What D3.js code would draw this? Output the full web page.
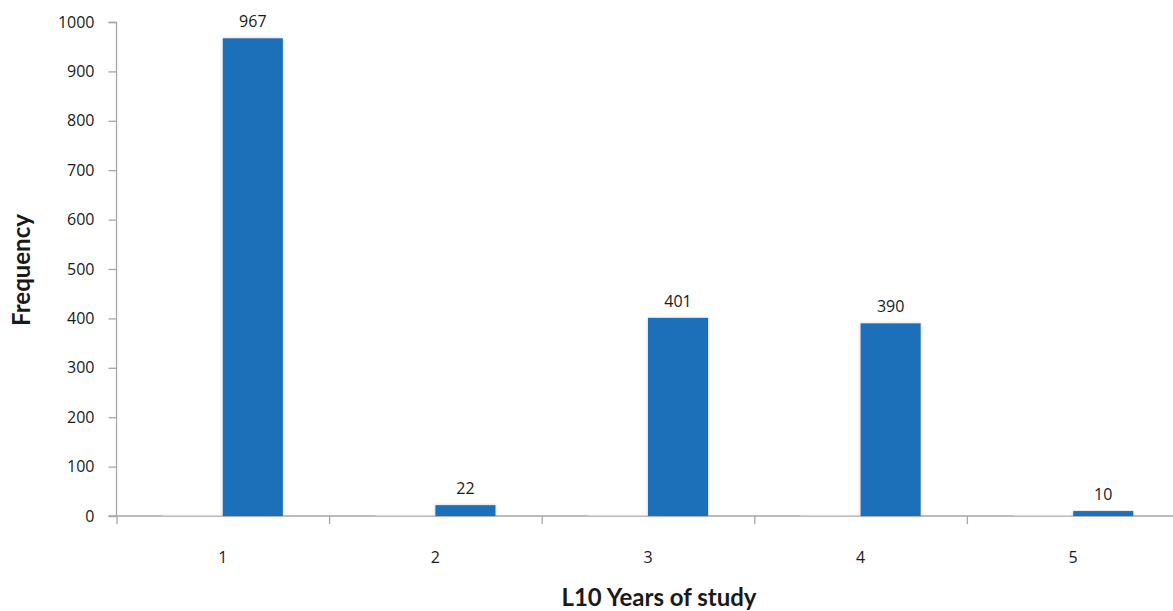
<!DOCTYPE html>
<html>
<head>
<meta charset="utf-8">
<script src="https://cdn.jsdelivr.net/npm/d3@7"></script>
<style>
  html, body { margin: 0; padding: 0; background: #fff; }
  svg { display: block; }
  text { fill: #1a1a1a; }
</style>
</head>
<body>
<svg id="chart" width="1173" height="611"></svg>
<script>
// Frequency of L10 years of study (clustered: empty first series, counts second)
const categories = ["1", "2", "3", "4", "5"];
const seriesNames = ["blank", "Frequency"];
const blankValues = [0, 0, 0, 0, 0];
const freqValues = [967, 22, 401, 390, 10];
const yTicks = [0, 100, 200, 300, 400, 500, 600, 700, 800, 900, 1000];

const svg = d3.select("#chart");
const plotLeft = 116.5, plotRight = 1179.5, plotTop = 22, plotBottom = 516;

const x = d3.scaleBand().domain(categories).range([plotLeft, plotRight]).paddingInner(0).paddingOuter(0);
const xs = d3.scaleBand().domain(seriesNames).range([0, x.bandwidth()]).paddingInner(0).paddingOuter(0.77);
const y = d3.scaleLinear().domain([0, 1000]).range([plotBottom, plotTop]);

const defs = svg.append("defs");
const f = defs.append("filter").attr("id", "glow").attr("x", "-20%").attr("y", "-20%").attr("width", "140%").attr("height", "140%");
f.append("feDropShadow").attr("dx", 0).attr("dy", 0).attr("stdDeviation", 1.6)
  .attr("flood-color", "#8c8c8c").attr("flood-opacity", 0.55);

const axisColor = "#a6a6a6";
const tickFont = "Open Sans, sans-serif";

// y axis
const yAxis = d3.axisLeft(y).tickValues(yTicks).tickSize(8).tickPadding(14).tickFormat(d3.format("d"));
const gy = svg.append("g").attr("transform", `translate(${plotLeft},0)`).call(yAxis);
gy.select(".domain").attr("stroke", axisColor).attr("stroke-width", 1.3).attr("d", `M-8,${plotTop + 0.5}H0V${plotBottom}`);
gy.selectAll(".tick line").attr("stroke", axisColor).attr("stroke-width", 1.3);
gy.selectAll(".tick text").attr("font-family", tickFont).attr("font-size", 16).attr("fill", "#1a1a1a");

// x axis: boundaries between categories
const gx = svg.append("g").attr("transform", `translate(0,${plotBottom})`);
gx.append("line").attr("x1", plotLeft - 8).attr("x2", 1173).attr("y1", 0).attr("y2", 0)
  .attr("stroke", axisColor).attr("stroke-width", 1.5);
const bounds = categories.map(c => x(c)).concat([x(categories[categories.length - 1]) + x.bandwidth()]);
gx.selectAll("line.tk").data(bounds).join("line").attr("class", "tk")
  .attr("x1", d => d + 0.5).attr("x2", d => d + 0.5).attr("y1", 0).attr("y2", 8)
  .attr("stroke", axisColor).attr("stroke-width", 1.3);
gx.selectAll("text.cat").data(categories).join("text").attr("class", "cat")
  .attr("x", d => x(d) + x.bandwidth() / 2).attr("y", 47)
  .attr("text-anchor", "middle").attr("font-family", tickFont).attr("font-size", 16)
  .text(d => d);

// bars
const rows = categories.map((c, i) => ({ c, blank: blankValues[i], freq: freqValues[i] }));
const gb = svg.append("g");
// empty first series: zero-height bars leave only a faint edge
gb.selectAll("rect.blank").data(rows).join("rect").attr("class", "blank")
  .attr("x", d => x(d.c) + xs("blank")).attr("width", xs.bandwidth())
  .attr("y", d => y(d.blank) - 1.5).attr("height", 1)
  .attr("fill", "#f4f4f4");
gb.selectAll("rect.freq").data(rows).join("rect").attr("class", "freq")
  .attr("x", d => x(d.c) + xs("Frequency")).attr("width", xs.bandwidth())
  .attr("y", d => y(d.freq)).attr("height", d => y(0) - y(d.freq))
  .attr("fill", "#1d6fba").attr("filter", "url(#glow)");

// value labels
svg.append("g").selectAll("text").data(rows).join("text")
  .attr("x", d => x(d.c) + xs("Frequency") + xs.bandwidth() / 2)
  .attr("y", d => y(d.freq) - 11)
  .attr("text-anchor", "middle").attr("font-family", tickFont).attr("font-size", 16)
  .text(d => d.freq);

// axis titles
svg.append("text").attr("x", 659).attr("y", 606).attr("text-anchor", "middle")
  .attr("font-family", "Lato, sans-serif").attr("font-weight", "bold").attr("font-size", 24)
  .text("L10 Years of study");
svg.append("text").attr("transform", "translate(30,270) rotate(-90)").attr("text-anchor", "middle")
  .attr("font-family", "Lato, sans-serif").attr("font-weight", "bold").attr("font-size", 24)
  .text("Frequency");
</script>
</body>
</html>
